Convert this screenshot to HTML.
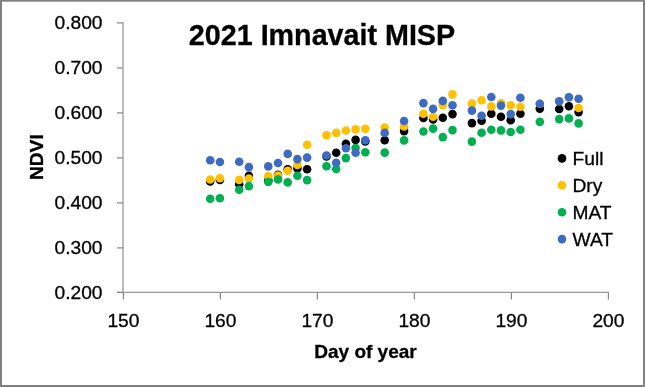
<!DOCTYPE html>
<html><head><meta charset="utf-8"><style>
html,body{margin:0;padding:0;background:#fff;}
body{width:645px;height:387px;overflow:hidden;position:relative;}
svg{position:absolute;left:0;top:0;will-change:transform;}
text{font-family:"Liberation Sans",sans-serif;font-size:19.2px;fill:#000;stroke:#000;stroke-width:0.3px;}
</style></head><body>
<svg width="645" height="387" viewBox="0 0 645 387">
<rect x="0" y="0" width="645" height="387" fill="#fff"/>
<rect x="0" y="0" width="645" height="1" fill="#808080"/>
<rect x="0" y="1" width="645" height="1" fill="#a8a8a8"/>
<rect x="0" y="0" width="2" height="387" fill="#808080"/>
<rect x="643" y="0" width="2" height="387" fill="#808080"/>
<rect x="0" y="385" width="645" height="2" fill="#808080"/>
<text x="322" y="45" text-anchor="middle" style="font-weight:bold;font-size:28.7px">2021 Imnavait MISP</text>
<g stroke="#989898" stroke-width="1.3" fill="none">
<line x1="123" y1="22.2" x2="123" y2="292.5"/>
<line x1="117" y1="292.4" x2="608.9" y2="292.4"/>
</g>
<g stroke="#868686" stroke-width="1.2">
<line x1="117" y1="22.9" x2="123" y2="22.9"/>
<line x1="117" y1="67.9" x2="123" y2="67.9"/>
<line x1="117" y1="112.9" x2="123" y2="112.9"/>
<line x1="117" y1="157.9" x2="123" y2="157.9"/>
<line x1="117" y1="202.9" x2="123" y2="202.9"/>
<line x1="117" y1="247.9" x2="123" y2="247.9"/>
<line x1="117" y1="292.4" x2="123" y2="292.4"/>
<line x1="123.4" y1="292.5" x2="123.4" y2="299.5"/>
<line x1="220.4" y1="292.5" x2="220.4" y2="299.5"/>
<line x1="317.4" y1="292.5" x2="317.4" y2="299.5"/>
<line x1="414.4" y1="292.5" x2="414.4" y2="299.5"/>
<line x1="511.4" y1="292.5" x2="511.4" y2="299.5"/>
<line x1="608.4" y1="292.5" x2="608.4" y2="299.5"/>
</g>
<text x="102.5" y="28.9" text-anchor="end">0.800</text>
<text x="102.5" y="73.9" text-anchor="end">0.700</text>
<text x="102.5" y="118.9" text-anchor="end">0.600</text>
<text x="102.5" y="163.9" text-anchor="end">0.500</text>
<text x="102.5" y="208.9" text-anchor="end">0.400</text>
<text x="102.5" y="253.9" text-anchor="end">0.300</text>
<text x="102.5" y="298.9" text-anchor="end">0.200</text>
<text x="123.4" y="327.3" text-anchor="middle">150</text>
<text x="220.4" y="327.3" text-anchor="middle">160</text>
<text x="317.4" y="327.3" text-anchor="middle">170</text>
<text x="414.4" y="327.3" text-anchor="middle">180</text>
<text x="511.4" y="327.3" text-anchor="middle">190</text>
<text x="608.4" y="327.3" text-anchor="middle">200</text>
<text x="365.5" y="358.3" text-anchor="middle" style="font-weight:bold;font-size:19px">Day of year</text>
<text transform="translate(42.7,157.2) rotate(-90)" text-anchor="middle" style="font-weight:bold">NDVI</text>
<g>
<circle cx="210.2" cy="181.4" r="4.3" fill="#000000"/>
<circle cx="219.9" cy="179.9" r="4.3" fill="#000000"/>
<circle cx="239.2" cy="184.2" r="4.3" fill="#000000"/>
<circle cx="248.9" cy="175.7" r="4.3" fill="#000000"/>
<circle cx="268.3" cy="180.2" r="4.3" fill="#000000"/>
<circle cx="278.0" cy="174.7" r="4.3" fill="#000000"/>
<circle cx="287.7" cy="169.2" r="4.3" fill="#000000"/>
<circle cx="297.4" cy="168.4" r="4.3" fill="#000000"/>
<circle cx="307.1" cy="169.2" r="4.3" fill="#000000"/>
<circle cx="326.5" cy="156.4" r="4.3" fill="#000000"/>
<circle cx="336.2" cy="152.7" r="4.3" fill="#000000"/>
<circle cx="345.9" cy="143.7" r="4.3" fill="#000000"/>
<circle cx="355.6" cy="139.9" r="4.3" fill="#000000"/>
<circle cx="365.3" cy="141.4" r="4.3" fill="#000000"/>
<circle cx="384.7" cy="140.2" r="4.3" fill="#000000"/>
<circle cx="404.1" cy="131.1" r="4.3" fill="#000000"/>
<circle cx="423.4" cy="118.0" r="4.3" fill="#000000"/>
<circle cx="433.1" cy="119.4" r="4.3" fill="#000000"/>
<circle cx="442.8" cy="117.7" r="4.3" fill="#000000"/>
<circle cx="452.5" cy="114.1" r="4.3" fill="#000000"/>
<circle cx="471.9" cy="123.1" r="4.3" fill="#000000"/>
<circle cx="481.6" cy="120.8" r="4.3" fill="#000000"/>
<circle cx="491.3" cy="113.7" r="4.3" fill="#000000"/>
<circle cx="501.0" cy="116.8" r="4.3" fill="#000000"/>
<circle cx="510.7" cy="120.3" r="4.3" fill="#000000"/>
<circle cx="520.4" cy="113.7" r="4.3" fill="#000000"/>
<circle cx="539.8" cy="108.6" r="4.3" fill="#000000"/>
<circle cx="559.2" cy="109.0" r="4.3" fill="#000000"/>
<circle cx="568.9" cy="106.3" r="4.3" fill="#000000"/>
<circle cx="578.6" cy="112.1" r="4.3" fill="#000000"/>
<circle cx="210.2" cy="179.5" r="4.3" fill="#FFC000"/>
<circle cx="219.9" cy="178.3" r="4.3" fill="#FFC000"/>
<circle cx="239.2" cy="179.9" r="4.3" fill="#FFC000"/>
<circle cx="248.9" cy="178.5" r="4.3" fill="#FFC000"/>
<circle cx="268.3" cy="176.2" r="4.3" fill="#FFC000"/>
<circle cx="278.0" cy="175.6" r="4.3" fill="#FFC000"/>
<circle cx="287.7" cy="170.7" r="4.3" fill="#FFC000"/>
<circle cx="297.4" cy="164.9" r="4.3" fill="#FFC000"/>
<circle cx="307.1" cy="144.8" r="4.3" fill="#FFC000"/>
<circle cx="326.5" cy="135.3" r="4.3" fill="#FFC000"/>
<circle cx="336.2" cy="132.9" r="4.3" fill="#FFC000"/>
<circle cx="345.9" cy="130.5" r="4.3" fill="#FFC000"/>
<circle cx="355.6" cy="129.4" r="4.3" fill="#FFC000"/>
<circle cx="365.3" cy="128.7" r="4.3" fill="#FFC000"/>
<circle cx="384.7" cy="127.5" r="4.3" fill="#FFC000"/>
<circle cx="404.1" cy="126.4" r="4.3" fill="#FFC000"/>
<circle cx="423.4" cy="113.7" r="4.3" fill="#FFC000"/>
<circle cx="433.1" cy="116.8" r="4.3" fill="#FFC000"/>
<circle cx="442.8" cy="105.2" r="4.3" fill="#FFC000"/>
<circle cx="452.5" cy="94.4" r="4.3" fill="#FFC000"/>
<circle cx="471.9" cy="103.6" r="4.3" fill="#FFC000"/>
<circle cx="481.6" cy="100.2" r="4.3" fill="#FFC000"/>
<circle cx="491.3" cy="106.4" r="4.3" fill="#FFC000"/>
<circle cx="501.0" cy="103.3" r="4.3" fill="#FFC000"/>
<circle cx="510.7" cy="105.3" r="4.3" fill="#FFC000"/>
<circle cx="520.4" cy="106.8" r="4.3" fill="#FFC000"/>
<circle cx="539.8" cy="103.8" r="4.3" fill="#FFC000"/>
<circle cx="559.2" cy="101.3" r="4.3" fill="#FFC000"/>
<circle cx="568.9" cy="97.2" r="4.3" fill="#FFC000"/>
<circle cx="578.6" cy="108.0" r="4.3" fill="#FFC000"/>
<circle cx="210.2" cy="198.8" r="4.3" fill="#00B050"/>
<circle cx="219.9" cy="198.2" r="4.3" fill="#00B050"/>
<circle cx="239.2" cy="189.7" r="4.3" fill="#00B050"/>
<circle cx="248.9" cy="186.1" r="4.3" fill="#00B050"/>
<circle cx="268.3" cy="182.0" r="4.3" fill="#00B050"/>
<circle cx="278.0" cy="179.4" r="4.3" fill="#00B050"/>
<circle cx="287.7" cy="182.4" r="4.3" fill="#00B050"/>
<circle cx="297.4" cy="175.7" r="4.3" fill="#00B050"/>
<circle cx="307.1" cy="180.1" r="4.3" fill="#00B050"/>
<circle cx="326.5" cy="166.3" r="4.3" fill="#00B050"/>
<circle cx="336.2" cy="169.0" r="4.3" fill="#00B050"/>
<circle cx="345.9" cy="158.1" r="4.3" fill="#00B050"/>
<circle cx="355.6" cy="148.0" r="4.3" fill="#00B050"/>
<circle cx="365.3" cy="152.3" r="4.3" fill="#00B050"/>
<circle cx="384.7" cy="152.6" r="4.3" fill="#00B050"/>
<circle cx="404.1" cy="140.4" r="4.3" fill="#00B050"/>
<circle cx="423.4" cy="131.5" r="4.3" fill="#00B050"/>
<circle cx="433.1" cy="128.6" r="4.3" fill="#00B050"/>
<circle cx="442.8" cy="137.1" r="4.3" fill="#00B050"/>
<circle cx="452.5" cy="130.1" r="4.3" fill="#00B050"/>
<circle cx="471.9" cy="141.6" r="4.3" fill="#00B050"/>
<circle cx="481.6" cy="132.8" r="4.3" fill="#00B050"/>
<circle cx="491.3" cy="129.7" r="4.3" fill="#00B050"/>
<circle cx="501.0" cy="130.4" r="4.3" fill="#00B050"/>
<circle cx="510.7" cy="132.0" r="4.3" fill="#00B050"/>
<circle cx="520.4" cy="129.7" r="4.3" fill="#00B050"/>
<circle cx="539.8" cy="121.9" r="4.3" fill="#00B050"/>
<circle cx="559.2" cy="119.1" r="4.3" fill="#00B050"/>
<circle cx="568.9" cy="118.4" r="4.3" fill="#00B050"/>
<circle cx="578.6" cy="123.4" r="4.3" fill="#00B050"/>
<circle cx="210.2" cy="160.2" r="4.3" fill="#3E6BC2"/>
<circle cx="219.9" cy="162.0" r="4.3" fill="#3E6BC2"/>
<circle cx="239.2" cy="161.7" r="4.3" fill="#3E6BC2"/>
<circle cx="248.9" cy="167.1" r="4.3" fill="#3E6BC2"/>
<circle cx="268.3" cy="166.4" r="4.3" fill="#3E6BC2"/>
<circle cx="278.0" cy="163.0" r="4.3" fill="#3E6BC2"/>
<circle cx="287.7" cy="153.9" r="4.3" fill="#3E6BC2"/>
<circle cx="297.4" cy="159.1" r="4.3" fill="#3E6BC2"/>
<circle cx="307.1" cy="157.6" r="4.3" fill="#3E6BC2"/>
<circle cx="326.5" cy="155.5" r="4.3" fill="#3E6BC2"/>
<circle cx="336.2" cy="162.8" r="4.3" fill="#3E6BC2"/>
<circle cx="345.9" cy="148.3" r="4.3" fill="#3E6BC2"/>
<circle cx="355.6" cy="152.7" r="4.3" fill="#3E6BC2"/>
<circle cx="365.3" cy="140.2" r="4.3" fill="#3E6BC2"/>
<circle cx="384.7" cy="132.9" r="4.3" fill="#3E6BC2"/>
<circle cx="404.1" cy="121.0" r="4.3" fill="#3E6BC2"/>
<circle cx="423.4" cy="103.1" r="4.3" fill="#3E6BC2"/>
<circle cx="433.1" cy="108.9" r="4.3" fill="#3E6BC2"/>
<circle cx="442.8" cy="100.9" r="4.3" fill="#3E6BC2"/>
<circle cx="452.5" cy="105.2" r="4.3" fill="#3E6BC2"/>
<circle cx="471.9" cy="110.6" r="4.3" fill="#3E6BC2"/>
<circle cx="481.6" cy="115.7" r="4.3" fill="#3E6BC2"/>
<circle cx="491.3" cy="97.0" r="4.3" fill="#3E6BC2"/>
<circle cx="501.0" cy="105.6" r="4.3" fill="#3E6BC2"/>
<circle cx="510.7" cy="114.1" r="4.3" fill="#3E6BC2"/>
<circle cx="520.4" cy="97.8" r="4.3" fill="#3E6BC2"/>
<circle cx="539.8" cy="103.8" r="4.3" fill="#3E6BC2"/>
<circle cx="559.2" cy="101.3" r="4.3" fill="#3E6BC2"/>
<circle cx="568.9" cy="97.2" r="4.3" fill="#3E6BC2"/>
<circle cx="578.6" cy="98.7" r="4.3" fill="#3E6BC2"/>
</g>
<circle cx="562" cy="158.4" r="4.3" fill="#000000"/>
<text x="572.5" y="164.8">Full</text>
<circle cx="562" cy="185.3" r="4.3" fill="#FFC000"/>
<text x="572.5" y="191.7">Dry</text>
<circle cx="562" cy="212.2" r="4.3" fill="#00B050"/>
<text x="572.5" y="218.6">MAT</text>
<circle cx="562" cy="239.1" r="4.3" fill="#3E6BC2"/>
<text x="572.5" y="245.5">WAT</text>
</svg>
</body></html>
